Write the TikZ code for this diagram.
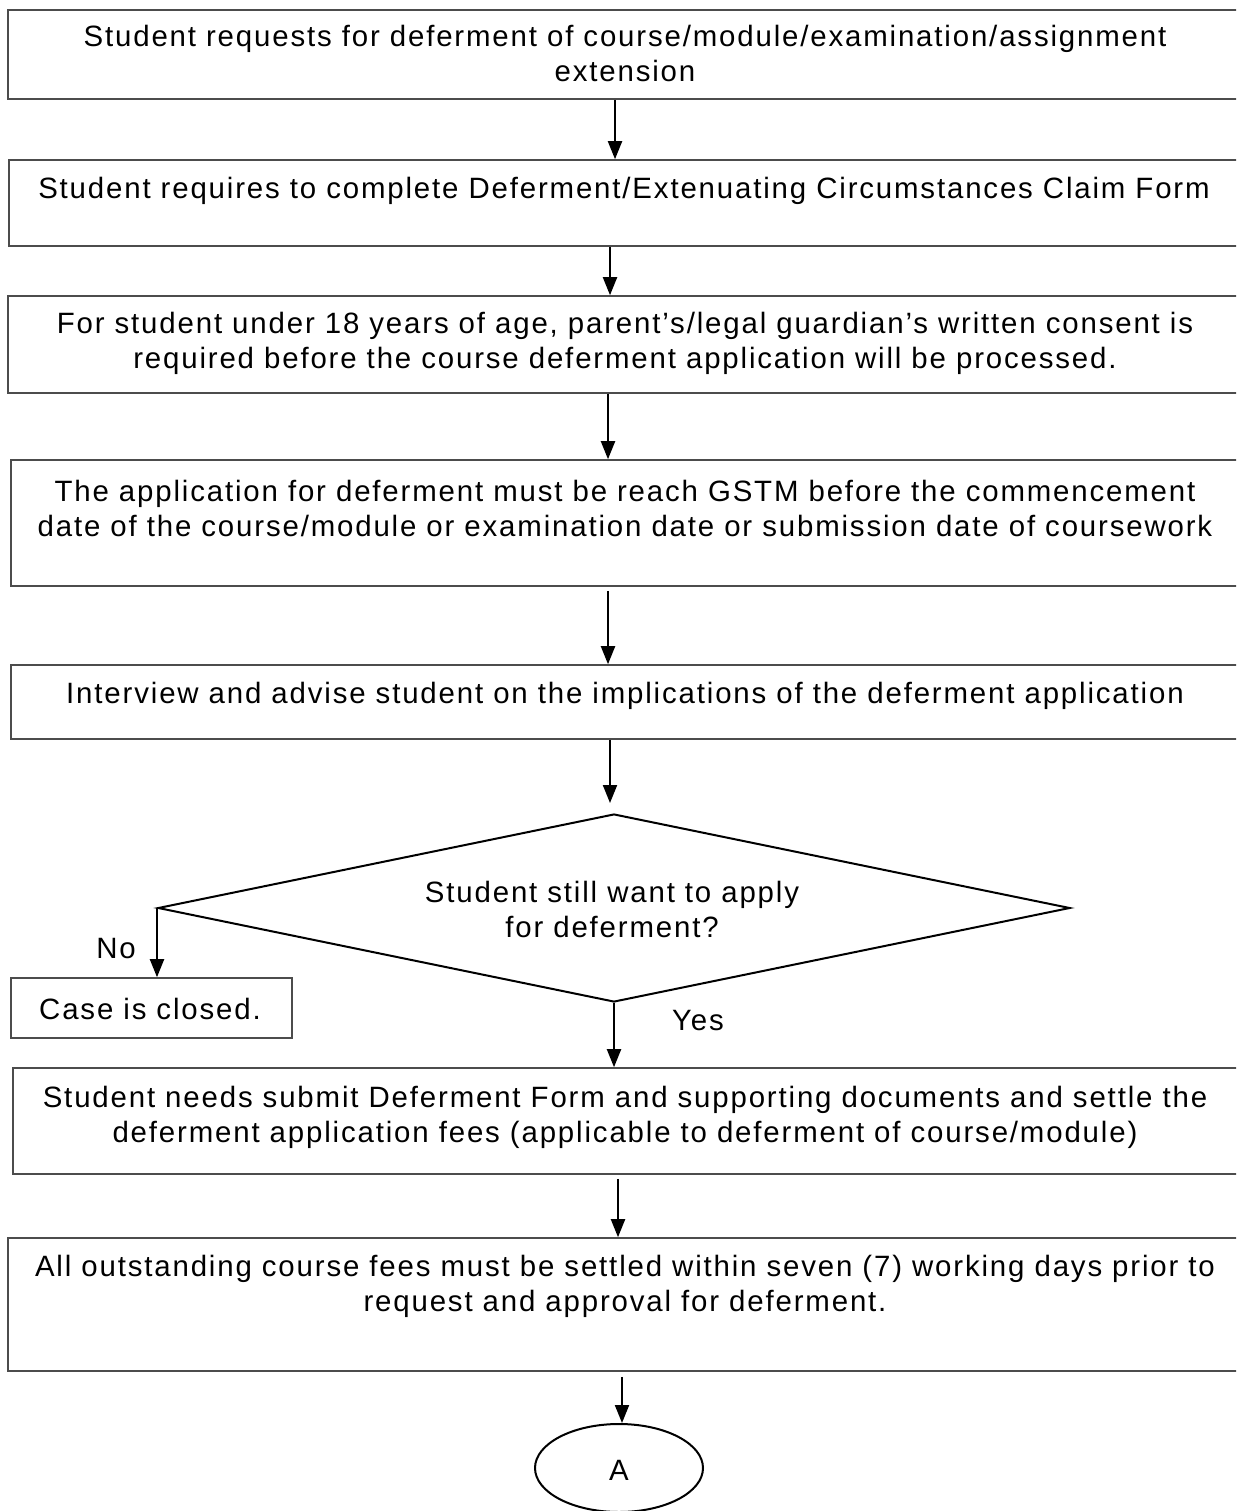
\documentclass[tikz,border=0pt]{standalone}
\usepackage{fontspec}
\setmainfont{Liberation Sans}[LetterSpace=6.3]
\usetikzlibrary{arrows.meta,shapes.geometric}
\begin{document}
\begin{tikzpicture}[x=1pt,y=-1pt,
  box/.style={draw=black!70,line width=1.6pt,rectangle,inner sep=0pt},
  txt/.style={align=center,font=\fontsize{29.4}{35.5}\selectfont,inner sep=0pt},
  arr/.style={-{Triangle[length=18pt,width=14pt]},line width=2pt}]
\clip (0,0) rectangle (1236,1511);
\fill[white] (0,0) rectangle (1236,1511);
% boxes
\node[box,minimum width=1237pt,minimum height=89pt] (b1) at (626.5,54.5) {};
\node[box,minimum width=1236pt,minimum height=86pt] (b2) at (627,203) {};
\node[box,minimum width=1237pt,minimum height=97pt] (b3) at (626.5,344.5) {};
\node[box,minimum width=1234pt,minimum height=126pt] (b4) at (628,523) {};
\node[box,minimum width=1234pt,minimum height=74pt] (b5) at (628,702) {};
\node[diamond,draw,line width=2pt,minimum width=912pt,minimum height=188pt,inner sep=0pt] (d) at (614,908) {};
\node[box,minimum width=281pt,minimum height=60pt] (case) at (151.5,1008) {};
\node[box,minimum width=1232pt,minimum height=106pt] (b6) at (629,1121) {};
\node[box,minimum width=1237pt,minimum height=133pt] (b7) at (626.5,1304.5) {};
\node[ellipse,draw,line width=2pt,minimum width=168pt,minimum height=88pt,inner sep=0pt] (A) at (619,1468) {};
% texts
\node[txt] (t1) at (625,53.5) {Student requests for deferment of course/module/examination/assignment\\extension};
\node[txt] (t2) at (624,190.5) {Student requires to complete Deferment/Extenuating Circumstances Claim Form};
\node[txt] (t3) at (625,343.5) {For student under 18 years of age, parent's/legal guardian's written consent is\\required before the course deferment application will be processed.};
\node[txt] (t4) at (625,508.5) {The application for deferment must be reach GSTM before the commencement\\date of the course/module or examination date or submission date of coursework};
\node[txt] (t5) at (625,695.5) {Interview and advise student on the implications of the deferment application};
\node[txt] (t6) at (612,909.5) {Student still want to apply\\for deferment?};
\node[txt] (t7) at (150,1008.5) {Case is closed.};
\node[txt] (t8) at (625,1117.5) {Student needs submit Deferment Form and supporting documents and settle the\\deferment application fees (applicable to deferment of course/module)};
\node[txt] (t9) at (625,1286.5) {All outstanding course fees must be settled within seven (7) working days prior to\\request and approval for deferment.};
\node[txt] (tA) at (619,1470.5) {A};
\node[txt] (no) at (116,948.5) {No};
\node[txt] (yes) at (698,1020.5) {Yes};
% connectors
\coordinate (s1) at ([xshift=-11.5pt]b1.south);
\draw[arr] (s1) -- (s1 |- b2.north);
\coordinate (s2) at ([xshift=-17pt]b2.south);
\draw[arr] (s2) -- (s2 |- b3.north);
\coordinate (s3) at ([xshift=-18.5pt]b3.south);
\draw[arr] (s3) -- (s3 |- b4.north);
\coordinate (s4) at ([xshift=-20pt,yshift=-4pt]b4.south);
\draw[arr] (s4) -- (s4 |- b5.north);
\coordinate (s5) at ([xshift=-18pt]b5.south);
\draw[arr] (s5) -- ([yshift=10pt]s5 |- d.north);
\draw[arr] (d.west) -- (d.west |- case.north);
\draw[arr] (d.south) -- (d.south |- b6.north);
\coordinate (s6) at ([xshift=-11pt,yshift=-4pt]b6.south);
\draw[arr] (s6) -- (s6 |- b7.north);
\coordinate (s7) at ([xshift=-4.5pt,yshift=-5pt]b7.south);
\draw[arr] (s7) -- (s7 |- A.north);
\end{tikzpicture}
\end{document}
